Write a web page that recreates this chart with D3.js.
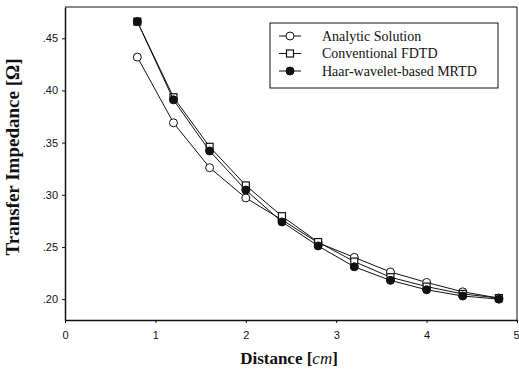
<!DOCTYPE html>
<html>
<head>
<meta charset="utf-8">
<script src="https://cdn.jsdelivr.net/npm/d3@7"></script>
<style>
  body { margin: 0; background: white; }
</style>
</head>
<body>
<div class="canvas"></div>
<script>
// data
const distance = [0.8, 1.2, 1.6, 2.0, 2.4, 2.8, 3.2, 3.6, 4.0, 4.4, 4.8];
const analytic = [0.432, 0.369, 0.326, 0.297, 0.276, 0.254, 0.240, 0.226, 0.216, 0.207, 0.201];
const fdtd     = [0.466, 0.3935, 0.346, 0.309, 0.2795, 0.2547, 0.236, 0.221, 0.212, 0.205, 0.201];
const mrtd     = [0.466, 0.391, 0.342, 0.3045, 0.274, 0.251, 0.231, 0.218, 0.209, 0.203, 0.200];
const xTicks = [0, 1, 2, 3, 4, 5];
const yTicks = [0.20, 0.25, 0.30, 0.35, 0.40, 0.45];
const seriesNames = ["Analytic Solution", "Conventional FDTD", "Haar-wavelet-based MRTD"];

const width = 519, height = 371;
const margin = {top: 7, bottom: 51, left: 65, right: 2};
const graphWidth = width - margin.left - margin.right;
const graphHeight = height - margin.top - margin.bottom;

const svg = d3.select('.canvas')
  .append('svg')
    .attr('width', width)
    .attr('height', height)
    .style('background-color', 'white')
  .append('g')
    .attr('transform', `translate(${margin.left}, ${margin.top})`);

const x = d3.scaleLinear().domain([0, 5]).range([0, graphWidth]);
const y = d3.scaleLinear().domain([0.18, 0.48]).range([graphHeight, 0]);

// frame (top and right sides)
svg.append('path')
  .attr('d', `M0,0H${graphWidth}V${graphHeight}`)
  .attr('fill', 'none')
  .attr('stroke', '#111')
  .attr('stroke-width', 1);

// X axis
const xAxis = svg.append('g')
  .attr('transform', `translate(0,${graphHeight})`)
  .call(d3.axisBottom(x).tickValues(xTicks).tickSize(3).tickPadding(8).tickSizeOuter(0)
    .tickFormat(d3.format('d')));
xAxis.selectAll('text')
  .style('font-family', "'Liberation Sans', Arial, sans-serif")
  .style('font-size', '11px')
  .attr('fill', '#111');
// keep the last label inside the picture
xAxis.selectAll('.tick:last-of-type text').attr('text-anchor', 'end').attr('dx', 2);

// Y axis
const yAxis = svg.append('g')
  .call(d3.axisLeft(y).tickValues(yTicks).tickSize(3).tickPadding(4).tickSizeOuter(0)
    .tickFormat(d => d3.format('.2f')(d).replace(/^0/, '')));
yAxis.selectAll('text')
  .style('font-family', "'Liberation Sans', Arial, sans-serif")
  .style('font-size', '11px')
  .attr('fill', '#111');

svg.selectAll('.domain').attr('stroke', '#111').attr('stroke-width', 1.5);
svg.selectAll('.tick line').attr('stroke', '#111');

// axis titles
svg.append('text')
  .attr('text-anchor', 'middle')
  .attr('x', graphWidth / 2 - 2)
  .attr('y', graphHeight + 44)
  .style('font-family', "'Liberation Serif', 'Times New Roman', serif")
  .style('font-weight', 'bold')
  .style('font-size', '17px')
  .attr('fill', '#111')
  .call(t => {
    t.append('tspan').text('Distance [');
    t.append('tspan').style('font-style', 'italic').style('font-weight', 'normal').text('cm');
    t.append('tspan').text(']');
  });

svg.append('text')
  .attr('text-anchor', 'middle')
  .attr('transform', `translate(${-46}, ${150}) rotate(-90)`)
  .style('font-family', "'Liberation Serif', 'Times New Roman', serif")
  .style('font-weight', 'bold')
  .style('font-size', '19px')
  .attr('fill', '#111')
  .text('Transfer Impedance [Ω]');

// series
const series = [
  {name: seriesNames[0], values: analytic, marker: 'circle', fill: 'white'},
  {name: seriesNames[1], values: fdtd, marker: 'square', fill: 'white'},
  {name: seriesNames[2], values: mrtd, marker: 'circle', fill: '#111'}
];

const line = d3.line()
  .x((d, i) => x(distance[i]))
  .y(d => y(d));

function drawMarker(g, s, cx, cy) {
  if (s.marker === 'circle') {
    g.append('circle')
      .attr('cx', cx).attr('cy', cy).attr('r', 4)
      .attr('fill', s.fill).attr('stroke', '#111').attr('stroke-width', 1);
  } else {
    g.append('rect')
      .attr('x', cx - 3.5).attr('y', cy - 3.5)
      .attr('width', 7).attr('height', 7)
      .attr('fill', s.fill).attr('stroke', '#111').attr('stroke-width', 1.2);
  }
}

series.forEach(s => {
  svg.append('path')
    .datum(s.values)
    .attr('d', line)
    .attr('fill', 'none')
    .attr('stroke', '#111')
    .attr('stroke-width', 1);
  const g = svg.append('g');
  s.values.forEach((v, i) => drawMarker(g, s, x(distance[i]), y(v)));
});

// legend
const legend = svg.append('g')
  .attr('transform', `translate(${270 - margin.left}, ${23 - margin.top})`);
legend.append('rect')
  .attr('width', 228).attr('height', 65)
  .attr('fill', 'white').attr('stroke', '#111').attr('stroke-width', 1);
series.forEach((s, i) => {
  const ly = 13 + i * 17.5;
  legend.append('line')
    .attr('x1', 9).attr('x2', 31).attr('y1', ly).attr('y2', ly)
    .attr('stroke', '#111').attr('stroke-width', 1);
  drawMarker(legend, s, 20, ly);
  legend.append('text')
    .attr('x', 52).attr('y', ly + 4.5)
    .style('font-family', "'Liberation Serif', 'Times New Roman', serif")
    .style('font-size', '14px')
    .attr('fill', '#111')
    .text(s.name);
});
</script>
</body>
</html>
